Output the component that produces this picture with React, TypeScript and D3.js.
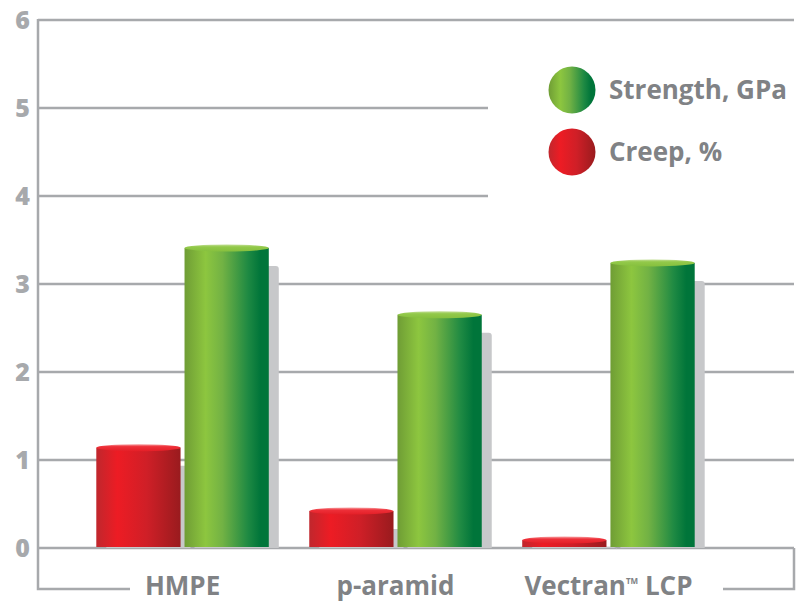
import React, { useEffect, useRef } from 'react';
import { select, scaleBand, scaleLinear } from 'd3';

const materials = ['HMPE', 'p-aramid', 'Vectran LCP'];
const seriesKeys = ['creep', 'strength'];
const seriesNames = ['Strength, GPa', 'Creep, %'];
const creepValues = [1.14, 0.42, 0.09];
const strengthValues = [3.41, 2.65, 3.24];
const yTicks = [0, 1, 2, 3, 4, 5, 6];
// gridlines cut short where the legend sits
const shortGrid = [4, 5];

const W = 804;
const H = 602;
const axisX = 38;
const rightX = 794;
const frameBottom = 589;
const gray = '#a7a9ac';
const labelGray = '#808285';
const font = '"Open Sans", "Noto Sans", sans-serif';

export default function App() {
    const ref = useRef<SVGSVGElement>(null);

    useEffect(() => {
        const svg = select(ref.current);
        svg.selectAll('*').remove();

        const y = scaleLinear().domain([0, 6]).range([548, 20]);
        const x0 = scaleBand().domain(materials).range([75, 716]).paddingInner(0.19).paddingOuter(0.1);
        const x1 = scaleBand().domain(seriesKeys).range([0, x0.bandwidth()]).paddingInner(0.045);

        const defs = svg.append('defs');
        const hGrad = (id, stops) => {
            const g = defs.append('linearGradient').attr('id', id).attr('x1', 0).attr('x2', 1).attr('y1', 0).attr('y2', 0);
            stops.forEach(([o, c]) => g.append('stop').attr('offset', o).attr('stop-color', c));
        };
        const vGrad = (id, stops) => {
            const g = defs.append('linearGradient').attr('id', id).attr('x1', 0).attr('x2', 0).attr('y1', 0).attr('y2', 1);
            stops.forEach(([o, c]) => g.append('stop').attr('offset', o).attr('stop-color', c));
        };
        hGrad('redBody', [[0, '#c0272d'], [0.25, '#ed1c24'], [0.6, '#cf1f27'], [1, '#991b1e']]);
        hGrad('greenBody', [[0, '#6f9d35'], [0.25, '#8dc63f'], [0.45, '#72b244'], [0.75, '#1f8a43'], [0.9, '#00753a'], [1, '#00753a']]);
        vGrad('redTop', [[0, '#f7a4a6'], [0.35, '#ee3039'], [1, '#e41f27']]);
        vGrad('greenTop', [[0, '#c5e09a'], [0.35, '#93c94a'], [1, '#86c03e']]);

        // grid
        yTicks.forEach(t => {
            svg.append('line')
                .attr('x1', axisX).attr('x2', shortGrid.includes(t) ? 488 : rightX)
                .attr('y1', y(t)).attr('y2', y(t))
                .attr('stroke', gray).attr('stroke-width', 2.5);
            svg.append('text')
                .attr('x', 30).attr('y', y(t)).attr('dy', '0.36em')
                .attr('text-anchor', 'end')
                .attr('font-family', font).attr('font-weight', 800).attr('font-size', 25)
                .attr('fill', gray).text(t);
        });

        // frame: left axis and bottom bracket
        svg.append('path')
            .attr('d', `M${axisX},19V${frameBottom}H130`)
            .attr('fill', 'none').attr('stroke', gray).attr('stroke-width', 2.5);
        svg.append('path')
            .attr('d', `M723,${frameBottom}H${rightX}V${y(0)}`)
            .attr('fill', 'none').attr('stroke', gray).attr('stroke-width', 2.5);

        const bars = materials.flatMap((m, i) => [
            { m, key: 'creep', v: creepValues[i] },
            { m, key: 'strength', v: strengthValues[i] },
        ]);
        const bx = d => x0(d.m) + x1(d.key);
        const bw = x1.bandwidth();
        const ry = 3.5;

        // shadows
        svg.selectAll('.shadow').data(bars).join('path')
            .attr('class', 'shadow')
            .attr('fill', '#c7c8ca')
            .attr('d', d => {
                const top = Math.min(y(d.v) + 18, y(0) - 1);
                const l = bx(d) + 10, r = bx(d) + bw + 10;
                return `M${l},${y(0)}V${top}H${r - 3}Q${r},${top} ${r},${top + 3}V${y(0)}Z`;
            });

        const g = svg.selectAll('.bar').data(bars).join('g').attr('class', 'bar');
        g.append('rect')
            .attr('x', bx).attr('width', bw)
            .attr('y', d => y(d.v)).attr('height', d => y(0) - y(d.v) - 1)
            .attr('fill', d => d.key === 'creep' ? 'url(#redBody)' : 'url(#greenBody)');
        g.append('ellipse')
            .attr('cx', d => bx(d) + bw / 2).attr('cy', d => y(d.v))
            .attr('rx', bw / 2).attr('ry', ry)
            .attr('fill', d => d.key === 'creep' ? 'url(#redTop)' : 'url(#greenTop)');

        // x labels
        materials.forEach(m => {
            const t = svg.append('text')
                .attr('x', x0(m) + x0.bandwidth() / 2).attr('y', 595)
                .attr('text-anchor', 'middle')
                .attr('font-family', font).attr('font-weight', 700).attr('font-size', 26)
                .attr('fill', labelGray);
            if (m === 'Vectran LCP') {
                t.append('tspan').text('Vectran');
                t.append('tspan').attr('font-size', 8).attr('dy', -11).text('TM');
                t.append('tspan').attr('dy', 11).text(' LCP');
            } else {
                t.text(m);
            }
        });

        // legend
        const legend = [
            { name: seriesNames[0], fill: 'url(#greenBody)', cy: 90 },
            { name: seriesNames[1], fill: 'url(#redBody)', cy: 152 },
        ];
        legend.forEach(l => {
            svg.append('circle').attr('cx', 572).attr('cy', l.cy).attr('r', 23.5).attr('fill', l.fill);
            svg.append('text')
                .attr('x', 609).attr('y', l.cy).attr('dy', '0.36em')
                .attr('font-family', font).attr('font-weight', 700).attr('font-size', 26)
                .attr('fill', labelGray).text(l.name);
        });
    }, []);

    return (
        <svg ref={ref} width={W} height={H} style={{ position: 'absolute', left: 0, top: 0, background: '#fff' }} />
    );
}
